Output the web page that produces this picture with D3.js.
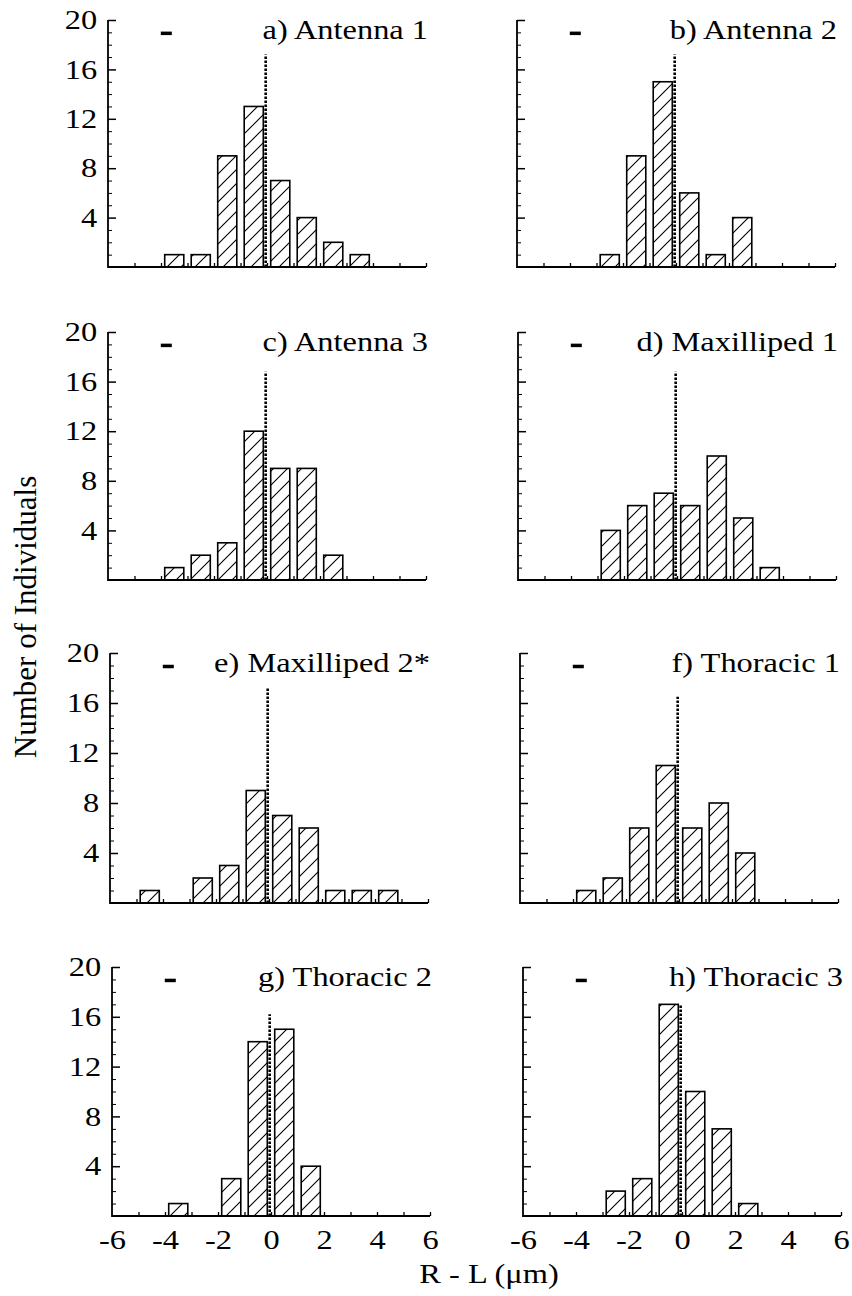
<!DOCTYPE html>
<html>
<head>
<meta charset="utf-8">
<script src="https://cdn.jsdelivr.net/npm/d3@7"></script>
<style>
  body { margin: 0; background: #fff; }
  text { font-family: "Liberation Serif", "Times New Roman", serif; fill: #000; }
</style>
</head>
<body>
<div id="chart"></div>
<script>
// bin midpoints (R - L, um) shared by all panels
var binCenters = [-5.5, -4.5, -3.5, -2.5, -1.5, -0.5, 0.5, 1.5, 2.5, 3.5, 4.5, 5.5];

// counts per panel, one per bin
var antenna1 = [0, 0, 1, 1, 9, 13, 7, 4, 2, 1, 0, 0];
var antenna2 = [0, 0, 0, 1, 9, 15, 6, 1, 4, 0, 0, 0];
var antenna3 = [0, 0, 1, 2, 3, 12, 9, 9, 2, 0, 0, 0];
var maxilliped1 = [0, 0, 0, 4, 6, 7, 6, 10, 5, 1, 0, 0];
var maxilliped2 = [0, 1, 0, 2, 3, 9, 7, 6, 1, 1, 1, 0];
var thoracic1 = [0, 0, 1, 2, 6, 11, 6, 8, 4, 0, 0, 0];
var thoracic2 = [0, 0, 1, 0, 3, 14, 15, 4, 0, 0, 0, 0];
var thoracic3 = [0, 0, 0, 2, 3, 17, 10, 7, 1, 0, 0, 0];

var panelTitles = ["a) Antenna 1", "b) Antenna 2", "c) Antenna 3", "d) Maxilliped 1",
  "e) Maxilliped 2*", "f) Thoracic 1", "g) Thoracic 2", "h) Thoracic 3"];
var panelCounts = [antenna1, antenna2, antenna3, maxilliped1, maxilliped2, thoracic1, thoracic2, thoracic3];

// dotted reference line (x position and top) and the small dash marker
var refX = -0.05;
var refTop = [17.2, 17.2, 16.8, 16.8, 17.2, 16.5, 16.2, 17];
var markX = -3.8, markY = 18.9;

var yMajor = [4, 8, 12, 16, 20];
var xTickLabels = [-6, -4, -2, 0, 2, 4, 6];

// layout
var width = 852, height = 1296;
var panelW = 318;
var colX = [[108, 517], [108, 518], [110, 520], [112, 523]];
var rowTop = [20, 332, 653, 967];
var rowBase = [267, 580, 903, 1216];
var barW = 0.72;
var stretch = "scale(1.2,1)";

var svg = d3.select("#chart").append("svg")
  .attr("width", width)
  .attr("height", height);

// diagonal hatch
svg.append("defs").append("pattern")
  .attr("id", "hatch")
  .attr("patternUnits", "userSpaceOnUse")
  .attr("width", 14)
  .attr("height", 14)
  .append("path")
  .attr("d", "M-2,2 L2,-2 M0,14 L14,0 M12,16 L16,12")
  .attr("stroke", "#000")
  .attr("stroke-width", 1.1);

panelTitles.forEach(function (title, i) {
  var row = Math.floor(i / 2), col = i % 2;
  var x0 = colX[row][col];

  var x = d3.scaleLinear().domain([-6, 6]).range([x0, x0 + panelW]);
  var y = d3.scaleLinear().domain([0, 20]).range([rowBase[row], rowTop[row]]);

  var g = svg.append("g");

  // bars
  var data = binCenters.map(function (c, k) { return { x: c, n: panelCounts[i][k] }; })
    .filter(function (d) { return d.n > 0; });

  g.selectAll("rect.bar")
    .data(data)
    .enter().append("rect")
    .attr("class", "bar")
    .attr("x", function (d) { return x(d.x - barW / 2); })
    .attr("width", function (d) { return x(d.x + barW / 2) - x(d.x - barW / 2); })
    .attr("y", function (d) { return y(d.n); })
    .attr("height", function (d) { return y(0) - y(d.n); })
    .attr("fill", "url(#hatch)")
    .attr("stroke", "#000")
    .attr("stroke-width", 1.6);

  // dotted line
  g.append("line")
    .attr("x1", x(refX)).attr("x2", x(refX))
    .attr("y1", y(0)).attr("y2", y(refTop[i]))
    .attr("stroke", "#000")
    .attr("stroke-width", 2.6)
    .attr("stroke-dasharray", "2.5,1.5");

  // small dash marker
  g.append("rect")
    .attr("x", x(markX) - 5.5)
    .attr("y", y(markY) - 2)
    .attr("width", 11)
    .attr("height", 3.5)
    .attr("fill", "#000");

  // y axis: minor ticks
  var minor = d3.range(1, 20).filter(function (v) { return v % 4 !== 0; });
  g.append("g")
    .attr("transform", "translate(" + x0 + ",0)")
    .call(d3.axisLeft(y).tickValues(minor).tickSize(-4).tickFormat(""))
    .call(function (s) { s.select(".domain").remove(); });

  // y axis: major ticks (labels in left column only)
  var yAxis = g.append("g")
    .attr("transform", "translate(" + x0 + ",0)")
    .call(d3.axisLeft(y).tickValues(yMajor).tickSizeInner(-8).tickSizeOuter(0).tickPadding(9)
      .tickFormat(col === 0 ? d3.format("d") : ""));
  yAxis.select(".domain").remove();
  yAxis.selectAll("line").attr("stroke-width", 1.5);
  yAxis.selectAll("text")
    .attr("font-size", 27)
    .attr("font-family", "Liberation Serif, serif")
    .attr("transform", stretch);

  // x axis
  var xAxis = g.append("g")
    .attr("transform", "translate(0," + y(0) + ")")
    .call(d3.axisBottom(x).tickValues(d3.range(-5, 7)).tickSizeInner(-4).tickSizeOuter(0).tickFormat(""));
  xAxis.select(".domain").remove();
  xAxis.selectAll("line").attr("stroke-width", 1.3);

  if (row === 3) {
    var xLab = g.append("g")
      .attr("transform", "translate(0," + y(0) + ")")
      .call(d3.axisBottom(x).tickValues(xTickLabels).tickSize(0).tickPadding(14).tickFormat(d3.format("d")));
    xLab.select(".domain").remove();
    xLab.selectAll("text")
      .attr("font-size", 27)
      .attr("font-family", "Liberation Serif, serif")
      .attr("transform", stretch)
      .text(function (d) { return d < 0 ? "-" + Math.abs(d) : d; });
  }

  // axis lines
  g.append("path")
    .attr("d", "M" + x0 + "," + y(20) + "V" + y(0) + "H" + x(6))
    .attr("fill", "none")
    .attr("stroke", "#000")
    .attr("stroke-width", 1.8);

  // panel title
  g.append("text")
    .attr("transform", "translate(" + (x(6) + 2) + "," + (y(20) + 19) + ") " + stretch)
    .attr("text-anchor", "end")
    .attr("font-size", 27)
    .text(title);
});

// axis titles
svg.append("text")
  .attr("transform", "translate(36,617) rotate(-90)")
  .attr("text-anchor", "middle")
  .attr("font-size", 31)
  .text("Number of Individuals");

svg.append("text")
  .attr("transform", "translate(489,1283) " + stretch)
  .attr("text-anchor", "middle")
  .attr("font-size", 27)
  .text("R - L (\u03bcm)");
</script>
</body>
</html>
